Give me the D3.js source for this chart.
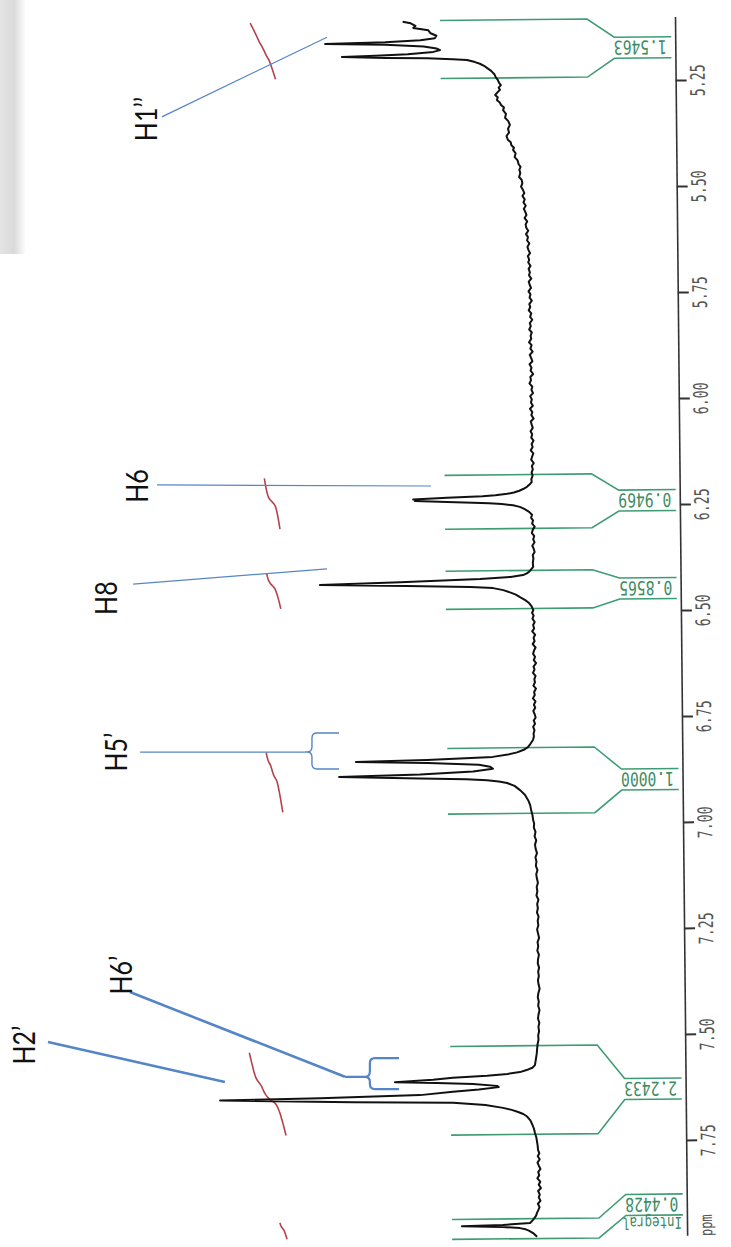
<!DOCTYPE html>
<html>
<head>
<meta charset="utf-8">
<script src="https://cdn.jsdelivr.net/npm/d3@7"></script>
<style>
  body { margin: 0; background: #fff; }
</style>
</head>
<body>
<script>
// 1H NMR printout, scanned on its side, with hand-drawn peak labels

const svgWidth = 731;
const svgHeight = 1247;

// chemical shift ticks (ppm)
const tickValues = [5.25, 5.50, 5.75, 6.00, 6.25, 6.50, 6.75, 7.00, 7.25, 7.50, 7.75];

// spectrum trace as [ppm, intensity]
const spectrum = [
    [5.106, 39.5], [5.110, 37.0], [5.116, 35.5], [5.121, 36.2], [5.127, 31.5], [5.134, 30.8], [5.140, 29.0],
    [5.146, 29.5], [5.150, 34.0], [5.154, 45.0], [5.157, 63.8], [5.160, 45.0], [5.165, 33.0], [5.170, 29.0], [5.174, 27.9],
    [5.178, 30.0], [5.183, 38.0], [5.186, 48.0], [5.188, 58.6], [5.191, 45.0], [5.193, 32.0], [5.196, 24.0], [5.198, 19.5],
    [5.203, 17.0], [5.207, 15.5], [5.212, 14.2], [5.217, 13.3], [5.224, 12.0], [5.232, 11.0], [5.239, 10.6], [5.246, 9.9],
    [5.252, 9.6], [5.258, 9.0], [5.264, 9.7], [5.269, 9.3], [5.275, 10.1], [5.281, 10.8], [5.287, 10.0], [5.293, 10.3],
    [5.299, 9.4], [5.305, 9.0], [5.311, 8.1], [5.317, 8.4], [5.326, 7.5], [5.335, 7.8], [5.343, 6.8], [5.352, 6.3],
    [5.361, 6.9], [5.370, 6.6], [5.378, 7.4], [5.387, 7.0], [5.393, 6.1], [5.400, 5.9], [5.406, 5.1], [5.411, 5.4],
    [5.419, 4.6], [5.428, 4.9], [5.436, 4.0], [5.445, 3.7], [5.451, 3.1], [5.458, 3.5], [5.466, 3.2], [5.475, 3.6],
    [5.482, 2.8], [5.490, 2.6], [5.498, 3.0], [5.506, 2.4],
    [5.513, 2.0], [5.520, 2.6], [5.528, 1.9], [5.535, 2.3], [5.543, 1.6], [5.550, 2.2], [5.557, 1.8], [5.565, 1.4],
    [5.572, 2.0], [5.580, 1.2], [5.587, 1.7], [5.595, 1.5], [5.602, 0.9], [5.610, 1.6], [5.617, 1.0], [5.625, 1.3],
    [5.632, 0.6], [5.640, 1.2], [5.647, 0.9], [5.655, 0.4], [5.662, 1.1], [5.670, 0.7], [5.677, 1.0], [5.685, 0.3],
    [5.692, 0.9], [5.700, 0.5], [5.707, 0.8], [5.715, 0.1], [5.722, 0.9], [5.730, 0.6], [5.737, 0.2], [5.745, 1.0],
    [5.752, 0.4], [5.760, 0.7], [5.767, 0.0], [5.775, 0.8], [5.782, 0.5], [5.790, 1.0], [5.797, 0.2], [5.805, 0.6],
    [5.812, -0.1], [5.820, 0.7], [5.827, 0.4], [5.835, 0.9], [5.842, 0.1], [5.850, 0.5], [5.857, 0.3], [5.865, 1.0],
    [5.872, 0.2], [5.880, 0.6], [5.887, -0.1], [5.895, 0.8], [5.902, 0.4], [5.910, 0.0], [5.917, 0.9], [5.925, 0.3],
    [5.932, 0.6], [5.940, -0.2], [5.947, 0.7], [5.955, 0.5], [5.962, 1.0], [5.970, 0.1], [5.977, 0.4], [5.985, -0.1],
    [5.992, 0.8], [6.000, 0.3], [6.007, 0.6], [6.015, 0.0], [6.022, 0.9], [6.030, 0.2], [6.037, 0.5], [6.045, -0.2],
    [6.052, 0.7], [6.060, 0.4], [6.067, 0.1], [6.075, 0.8], [6.082, 0.3], [6.090, 0.6], [6.097, -0.1], [6.105, 0.5],
    [6.112, 0.2], [6.120, 0.8], [6.127, 0.0], [6.135, 0.4], [6.142, 0.7], [6.150, -0.1], [6.157, 0.5], [6.165, 0.2],
    [6.172, 0.6], [6.180, 0.3], [6.188, 0.7], [6.195, 0.6],
    [6.200, 1.2], [6.206, 2.1], [6.211, 3.3], [6.215, 4.5], [6.219, 6.2], [6.222, 8.3], [6.225, 12.0], [6.227, 16.0],
    [6.230, 27.1], [6.233, 37.7], [6.235, 35.5], [6.237, 37.2], [6.240, 27.1], [6.242, 19.0], [6.244, 14.0], [6.246, 10.0],
    [6.249, 6.5], [6.253, 4.4], [6.258, 3.0], [6.265, 1.5], [6.272, 0.6], [6.279, 0.9], [6.285, 0.3],
    [6.293, 0.6], [6.300, -0.2], [6.307, 0.4], [6.315, 0.7], [6.322, 0.0], [6.330, 0.3], [6.337, -0.1], [6.345, 0.6],
    [6.352, 0.2], [6.360, -0.1], [6.367, 0.5], [6.375, 0.3], [6.385, 0.5], [6.395, 0.4],
    [6.405, 1.5], [6.410, 2.4], [6.414, 3.6], [6.418, 7.5], [6.422, 17.0], [6.428, 42.0], [6.4325, 67.1], [6.437, 40.0],
    [6.441, 20.0], [6.444, 13.0], [6.449, 9.8], [6.455, 7.5], [6.460, 5.9], [6.466, 4.6], [6.473, 3.0], [6.480, 1.8],
    [6.488, 1.0], [6.497, 0.5],
    [6.503, 0.9], [6.510, 0.4], [6.517, 0.8], [6.525, 0.1], [6.532, 0.6], [6.540, 0.3], [6.547, 0.9], [6.555, 0.0],
    [6.562, 0.5], [6.570, 0.2], [6.577, 0.8], [6.585, -0.1], [6.592, 0.4], [6.600, 0.7], [6.607, 0.1], [6.615, 0.5],
    [6.622, -0.2], [6.630, 0.6], [6.637, 0.3], [6.645, 0.8], [6.652, 0.0], [6.660, 0.4], [6.667, 0.2], [6.675, 0.7],
    [6.682, -0.1], [6.690, 0.5], [6.697, 0.3], [6.705, 0.9], [6.712, 0.1], [6.720, 0.6], [6.727, 0.2], [6.735, 0.8],
    [6.742, 0.4], [6.750, 0.1], [6.757, 0.7], [6.765, 0.3], [6.772, 0.9], [6.780, 0.5], [6.788, 0.8], [6.795, 0.7],
    [6.803, 1.0], [6.812, 1.8], [6.820, 2.6], [6.826, 3.9], [6.832, 6.0], [6.837, 8.9], [6.842, 13.6], [6.848, 34.2],
    [6.851, 56.4], [6.855, 34.0], [6.860, 18.0], [6.865, 14.5], [6.870, 13.6], [6.876, 19.8], [6.882, 36.4], [6.886, 61.7],
    [6.891, 36.4], [6.894, 22.0], [6.897, 15.5], [6.900, 11.8], [6.904, 9.2], [6.911, 6.9], [6.921, 5.2], [6.932, 3.7],
    [6.945, 2.7], [6.956, 2.1], [6.968, 1.8], [6.980, 1.4], [6.992, 1.2],
    [7.000, 0.9], [7.010, 1.0], [7.020, 0.5], [7.030, 0.8], [7.040, 0.3], [7.050, 0.7], [7.060, 0.5], [7.070, 0.1],
    [7.080, 0.6], [7.090, 0.3], [7.100, 0.5], [7.110, 0.0], [7.120, 0.4], [7.130, 0.2], [7.140, -0.1], [7.150, 0.3],
    [7.160, 0.1], [7.170, 0.4], [7.180, -0.2], [7.190, 0.2], [7.200, 0.0], [7.210, 0.3], [7.220, -0.2], [7.230, 0.1],
    [7.240, -0.1], [7.250, 0.3], [7.260, 0.0], [7.270, -0.3], [7.280, 0.2], [7.290, 0.0], [7.300, 0.3], [7.310, -0.2],
    [7.320, 0.1], [7.330, 0.2], [7.340, -0.2], [7.350, 0.1], [7.360, -0.1], [7.370, 0.2], [7.380, 0.0], [7.390, -0.3],
    [7.400, 0.1], [7.410, 0.3], [7.420, 0.0], [7.430, 0.2], [7.440, -0.2], [7.450, 0.1], [7.460, 0.3], [7.470, -0.1],
    [7.480, 0.2], [7.490, 0.0], [7.500, 0.3], [7.510, 0.2], [7.520, 0.5],
    [7.534, 0.7], [7.543, 0.8], [7.552, 1.0], [7.561, 1.2], [7.570, 1.4], [7.576, 2.2], [7.580, 3.5], [7.586, 6.1],
    [7.590, 10.0], [7.594, 16.4], [7.598, 27.1], [7.602, 33.3], [7.607, 45.2], [7.610, 32.1], [7.613, 20.8], [7.618, 13.3],
    [7.621, 12.8], [7.626, 19.0], [7.631, 27.1], [7.638, 37.4], [7.643, 68.6], [7.646, 99.9], [7.653, 58.3], [7.657, 27.1],
    [7.663, 17.0], [7.670, 11.5], [7.675, 8.8], [7.680, 6.8], [7.685, 5.2], [7.691, 4.0], [7.700, 3.0], [7.710, 2.4],
    [7.720, 1.9], [7.730, 1.6], [7.740, 1.2], [7.750, 1.0], [7.760, 0.8], [7.770, 0.7],
    [7.778, 0.3], [7.785, 0.8], [7.792, 0.2], [7.800, 0.9], [7.807, 0.5], [7.815, 0.0], [7.822, 0.7], [7.830, 0.4],
    [7.837, 1.0], [7.845, 0.1], [7.852, 0.6], [7.860, -0.1], [7.867, 0.8], [7.875, 0.3], [7.882, 0.6], [7.890, 0.1],
    [7.897, 0.9], [7.905, 0.4], [7.912, 0.8], [7.919, 1.25],
    [7.925, 1.5], [7.930, 2.0], [7.936, 2.6], [7.942, 3.4], [7.946, 11.9], [7.948, 24.7], [7.951, 12.0], [7.954, 6.6],
    [7.957, 4.8], [7.960, 3.8], [7.966, 2.5], [7.975, 1.25]
];

// integral regions (ppm) and their printed values
const integralFrom = [5.104, 6.177, 6.403, 6.821, 7.524, 7.932];
const integralTo = [5.241, 6.304, 6.493, 6.976, 7.733, 7.979];
const integralValues = [1.5463, 0.9469, 0.8565, 1.0000, 2.2433, 0.4428];

// hand-written peak assignments
const labelNames = ["H1’’", "H6", "H8", "H5’", "H6’", "H2’"];
const labelPpm = [5.342, 6.2075, 6.472, 6.835, 7.361, 7.526];
const labelInt = [118.1, 120.9, 130.6, 127.5, 125.9, 156.25];
const pointerFrom = [[5.337, 116.6], [6.205, 118.1], [6.439, 125.6], [6.835, 123.4], [7.401, 126.6], [7.519, 152.2]];
const pointerTo = [[5.149, 65.0], [6.2075, 32.5], [6.403, 65.0], [6.835, 71.9], [7.601, 59.4], [7.613, 96.9]];
// braces: [top ppm, bottom ppm, spine intensity, arm intensity]
const braces = [null, null, null, [6.790, 6.875, 69.7, 61.25], [7.557, 7.630, 51.6, 42.5], null];

// layout
const axisX = 681;
const scanTilt = -0.57;          // the printout sits slightly crooked on the scanner
const redBase = 79.4;            // where every integral trace ends (intensity units)
const redUnit = 5;               // intensity units per integral unit
const bracket = { outer: 446, bend: 593, inner: 620, end: 677, half: 10.5, text: 646 };
const thickLabels = new Set(["H6’", "H2’"]);

const svg = d3.select("body")
    .append("svg")
    .attr("width", svgWidth)
    .attr("height", svgHeight);

// paper shadow on the left edge of the scan
const defs = svg.append("defs");
const grad = defs.append("linearGradient").attr("id", "shadow");
grad.append("stop").attr("offset", "0%").attr("stop-color", "#e4e4e4");
grad.append("stop").attr("offset", "55%").attr("stop-color", "#dadada");
grad.append("stop").attr("offset", "100%").attr("stop-color", "#ffffff");
svg.append("rect")
    .attr("x", 0).attr("y", 0)
    .attr("width", 26).attr("height", 254)
    .attr("fill", "url(#shadow)");

// ppm runs downward, intensity runs to the left
const y = d3.scaleLinear()
    .domain([5.10, 7.975])
    .range([16.4, 1235.4]);

const x = d3.scaleLinear()
    .domain([0, 100])
    .range([535, 215]);

const scan = svg.append("g")
    .attr("transform", `rotate(${scanTilt}, 680, 620)`);

// axis
const axis = d3.axisRight(y)
    .tickValues(tickValues)
    .tickSize(11)
    .tickSizeOuter(0)
    .tickFormat(d3.format(".2f"));

const axisG = scan.append("g")
    .attr("transform", `translate(${axisX}, 0)`)
    .call(axis);

axisG.select(".domain").attr("stroke", "#333").attr("stroke-width", 1.6);
axisG.selectAll(".tick line").attr("stroke", "#333").attr("stroke-width", 2);
axisG.selectAll(".tick text")
    .attr("x", null)
    .attr("dy", null)
    .attr("text-anchor", "middle")
    .attr("transform", "translate(29, 0) scale(1.5, 1) rotate(-90)")
    .attr("font-family", "DejaVu Sans Mono")
    .attr("font-size", 13.3)
    .attr("fill", "#555");

scan.append("text")
    .attr("transform", `translate(${axisX + 25}, ${y.range()[1] - 10}) scale(1.4, 1) rotate(-90)`)
    .attr("text-anchor", "middle")
    .attr("font-family", "DejaVu Sans Mono")
    .attr("font-size", 12)
    .attr("fill", "#555")
    .text("ppm");

// integral brackets (green)
const green = "#3e9c74";
integralValues.forEach((v, i) => {
    const yo1 = y(integralFrom[i]);
    const yo2 = y(integralTo[i]);
    const yc = Math.min((yo1 + yo2) / 2, y.range()[1] - 31);
    const yi1 = yc - bracket.half;
    const yi2 = yc + bracket.half;

    [[yo1, yi1], [yo2, yi2]].forEach(([yo, yi]) => {
        scan.append("polyline")
            .attr("points", `${bracket.outer},${yo} ${bracket.bend},${yo} ${bracket.inner},${yi} ${bracket.end},${yi}`)
            .attr("fill", "none")
            .attr("stroke", green)
            .attr("stroke-width", 1.6);
    });

    scan.append("text")
        .attr("transform", `translate(${bracket.text}, ${yc - 7}) scale(1, 1.3) rotate(180)`)
        .attr("text-anchor", "middle")
        .attr("font-family", "DejaVu Sans Mono")
        .attr("font-size", 14.7)
        .attr("fill", "#3d8c62")
        .text(d3.format(".4f")(v));

    if (i === integralValues.length - 1) {
        scan.append("text")
            .attr("transform", `translate(${bracket.text}, ${yi2 + 2}) scale(1, 1.3) rotate(180)`)
            .attr("text-anchor", "middle")
            .attr("font-family", "DejaVu Sans Mono")
            .attr("font-size", 12.5)
            .attr("fill", "#3d8c62")
            .text("Integral");
    }
});

// integral traces (red), built from the spectrum itself; the pen lags a little,
// so half of the rise is spread evenly across the region
const redLine = d3.line()
    .x(d => x(d[1]))
    .y(d => y(d[0]))
    .curve(d3.curveBasis);

integralValues.forEach((v, i) => {
    const from = integralFrom[i], to = integralTo[i];
    const pts = spectrum.filter(d => d[0] >= from && d[0] <= to);
    const cum = [0];
    for (let k = 1; k < pts.length; k++) {
        cum.push(cum[k - 1] + (pts[k][0] - pts[k - 1][0]) * (pts[k][1] + pts[k - 1][1]) / 2);
    }
    const total = cum[cum.length - 1];
    const trace = pts.map((d, k) => {
        const frac = 0.5 * cum[k] / total + 0.5 * (d[0] - pts[0][0]) / (pts[pts.length - 1][0] - pts[0][0]);
        return [d[0], redBase + redUnit * v * (1 - frac)];
    });
    scan.append("path")
        .attr("d", redLine(trace))
        .attr("fill", "none")
        .attr("stroke", "#b5424b")
        .attr("stroke-width", 1.6);
});

// spectrum
const specLine = d3.line()
    .x(d => x(d[1]))
    .y(d => y(d[0]));

scan.append("path")
    .attr("d", specLine(spectrum))
    .attr("fill", "none")
    .attr("stroke", "#111")
    .attr("stroke-width", 2)
    .attr("stroke-linejoin", "round");

// annotations, drawn on top of the scan
const notes = svg.append("g");
const blue = "#5585c6";

labelNames.forEach((name, i) => {
    const thick = thickLabels.has(name);
    const [p0, i0] = pointerFrom[i];
    const [p1, i1] = pointerTo[i];

    notes.append("line")
        .attr("x1", x(i0)).attr("y1", y(p0))
        .attr("x2", x(i1)).attr("y2", y(p1))
        .attr("stroke", blue)
        .attr("stroke-width", thick ? 2.6 : 1.2);

    if (braces[i]) {
        const [bt, bb, bs, ba] = braces[i];
        const bx = x(bs), ax = x(ba);
        const yt = y(bt), yb = y(bb), ym = y(p1);
        const r = 5;
        notes.append("path")
            .attr("d", `M${x(i1)},${ym} L${bx - r},${ym}
                M${ax},${yt} L${bx + r},${yt} Q${bx},${yt} ${bx},${yt + r}
                L${bx},${ym - r} Q${bx},${ym} ${bx - r},${ym}
                Q${bx},${ym} ${bx},${ym + r} L${bx},${yb - r}
                Q${bx},${yb} ${bx + r},${yb} L${ax},${yb}`)
            .attr("fill", "none")
            .attr("stroke", blue)
            .attr("stroke-width", thick ? 2.2 : 1.4);
    }

    notes.append("text")
        .attr("transform", `translate(${x(labelInt[i])}, ${y(labelPpm[i])}) scale(1.22, 1) rotate(-90)`)
        .attr("text-anchor", "middle")
        .attr("font-family", "Lato")
        .attr("font-size", 25)
        .attr("fill", "#111")
        .text(name);
});
</script>
</body>
</html>
